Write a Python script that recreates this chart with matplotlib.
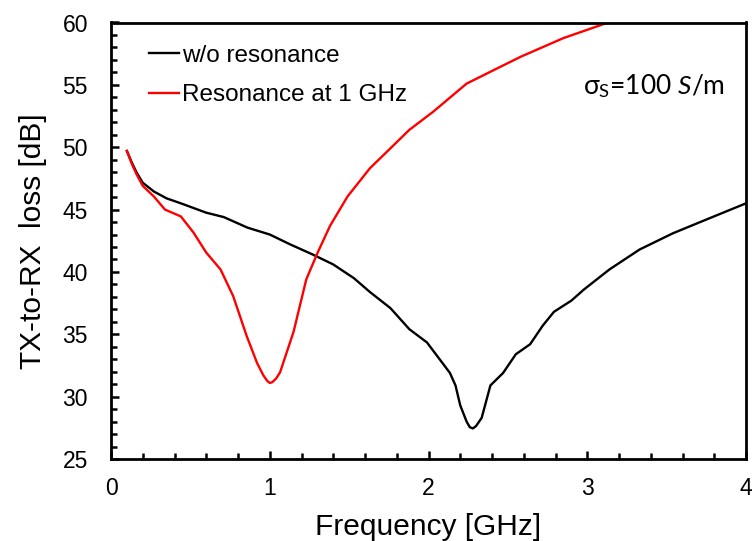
import matplotlib
matplotlib.use("Agg")
import matplotlib.pyplot as plt
from matplotlib.ticker import MultipleLocator

plt.rcParams['font.family'] = ['Liberation Sans', 'DejaVu Sans']
plt.rcParams['mathtext.fontset'] = 'custom'
plt.rcParams['mathtext.rm'] = 'Lato'
plt.rcParams['mathtext.it'] = 'Lato:italic'

# w/o resonance
freq_plain = [0.1, 0.13, 0.16, 0.2, 0.27, 0.35, 0.44, 0.6, 0.71, 0.86, 1.0, 1.13, 1.27,
              1.4, 1.53, 1.63, 1.76, 1.88, 1.99, 2.07, 2.135, 2.17, 2.2, 2.24, 2.26,
              2.28, 2.3, 2.335, 2.39, 2.47, 2.55, 2.64, 2.72, 2.79, 2.9, 2.98, 3.14,
              3.33, 3.54, 3.75, 4.0]
loss_plain = [49.7, 48.8, 48.0, 47.15, 46.45, 45.9, 45.5, 44.75, 44.4, 43.55, 43.0, 42.2, 41.4,
              40.6, 39.5, 38.4, 37.1, 35.4, 34.35, 33.0, 31.9, 30.9, 29.3, 28.0, 27.55,
              27.45, 27.65, 28.3, 30.9, 31.9, 33.4, 34.2, 35.7, 36.8, 37.7, 38.6, 40.2,
              41.8, 43.1, 44.2, 45.5]

# resonance at 1 GHz
freq_res = [0.1, 0.13, 0.16, 0.2, 0.27, 0.34, 0.44, 0.52, 0.6, 0.69, 0.77, 0.855, 0.92,
            0.96, 0.985, 1.0, 1.015, 1.04, 1.065, 1.15, 1.23, 1.3, 1.38, 1.49, 1.63,
            1.88, 2.03, 2.24, 2.39, 2.58, 2.85, 3.143]
loss_res = [49.7, 48.7, 47.85, 46.9, 46.05, 45.0, 44.45, 43.15, 41.55, 40.2, 38.05, 34.85, 32.7,
            31.7, 31.25, 31.1, 31.15, 31.45, 31.95, 35.2, 39.4, 41.5, 43.7, 46.05, 48.3,
            51.4, 52.85, 55.1, 56.05, 57.25, 58.75, 60.05]

fig = plt.figure(figsize=(7.52, 5.41), dpi=100)
ax = fig.add_axes([111 / 752, 1 - 459 / 541, 635 / 752, 436.5 / 541])

ax.plot(freq_plain, loss_plain, color="black", lw=1.7, label="w/o resonance")
ax.plot(freq_res, loss_res, color="#ff0000", lw=1.7, label="Resonance at 1 GHz")

ax.set_xlim(0, 4)
ax.set_ylim(25, 60)
ax.xaxis.set_major_locator(MultipleLocator(1))
ax.xaxis.set_minor_locator(MultipleLocator(0.2))
ax.yaxis.set_major_locator(MultipleLocator(5))
ax.yaxis.set_minor_locator(MultipleLocator(1))
ax.tick_params(which="both", direction="in", width=1.8, top=False, right=False)
ax.tick_params(which="major", length=6, labelsize=16.5)
ax.tick_params(which="minor", length=4)
ax.tick_params(axis="x", pad=13)
ax.tick_params(axis="y", pad=16.5)
for s in ax.spines.values():
    s.set_linewidth(2)

ax.set_xlabel("Frequency [GHz]", fontsize=21.5, labelpad=9)
ax.set_ylabel("TX-to-RX  loss [dB]", fontsize=21.5, labelpad=11)

ax.legend(loc="upper left", bbox_to_anchor=(0.045, 0.971), frameon=False,
          fontsize=17.5, handlelength=1.23, handletextpad=0.1, labelspacing=0.71,
          borderaxespad=0)

ax.text(0.967, 0.855, "σ$_\\mathregular{S}$=100 $\\mathit{S}$/m", transform=ax.transAxes,
        ha="right", va="center", fontsize=19, family=["Lato", "DejaVu Sans"])

fig.savefig("out.png", dpi=100)
